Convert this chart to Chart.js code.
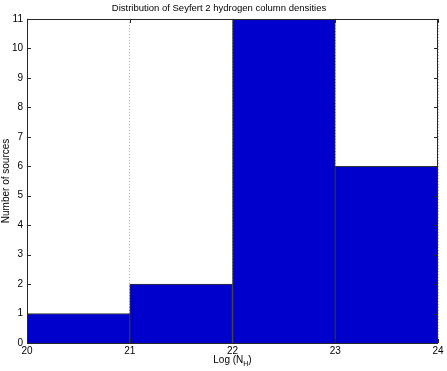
<!DOCTYPE html>
<html>
<head>
<meta charset="utf-8">
<script src="https://cdn.jsdelivr.net/npm/chart.js@4"></script>
<style>
  html, body { margin: 0; padding: 0; background: #fff; }
  #wrap { width: 447px; height: 371px; }
</style>
</head>
<body>
<div id="wrap"><canvas id="histChart" width="447" height="371"></canvas></div>
<script>
"use strict";
// histogram bins (Log N_H) and counts
const binCentres = [20.5, 21.5, 22.5, 23.5];
const counts = [1, 2, 11, 6];
const xTicks = [20, 21, 22, 23, 24];
const yTicks = [0, 1, 2, 3, 4, 5, 6, 7, 8, 9, 10, 11];

const FONT = 'Liberation Sans, Arial, Helvetica, sans-serif';

// box + inward tick marks, matlab style
const boxPlugin = {
    id: 'box',
    afterDatasetsDraw(chart) {
        const { ctx, chartArea: a, scales } = chart;
        ctx.save();
        ctx.strokeStyle = '#262626';
        ctx.lineWidth = 1;
        ctx.beginPath();
        yTicks.forEach(v => {
            const y = Math.round(scales.y.getPixelForValue(v)) + 0.5;
            ctx.moveTo(a.left, y); ctx.lineTo(a.left + 4, y);
            ctx.moveTo(a.right, y); ctx.lineTo(a.right - 4, y);
        });
        xTicks.forEach(v => {
            const x = Math.round(scales.x.getPixelForValue(v)) + 0.5;
            ctx.moveTo(x, a.bottom); ctx.lineTo(x, a.bottom - 4);
            ctx.moveTo(x, a.top); ctx.lineTo(x, a.top + 4);
        });
        ctx.stroke();
        ctx.strokeRect(Math.round(a.left) + 0.5, Math.round(a.top) + 0.5,
            Math.round(a.right - a.left) - 1, Math.round(a.bottom - a.top));
        ctx.restore();
    }
};

// x axis title with subscript H
const xTitlePlugin = {
    id: 'xTitle',
    afterDraw(chart) {
        const { ctx, chartArea: a } = chart;
        const cx = (a.left + a.right) / 2;
        const y = 363;
        ctx.save();
        ctx.fillStyle = '#000';
        ctx.textBaseline = 'alphabetic';
        const p1 = 'Log (N', p3 = ')';
        ctx.font = '7px ' + FONT;
        const w2 = ctx.measureText('H').width;
        ctx.font = '10px ' + FONT;
        const w1 = ctx.measureText(p1).width, w3 = ctx.measureText(p3).width;
        let x = cx - (w1 + w2 + w3) / 2;
        ctx.fillText(p1, x, y);
        x += w1;
        ctx.font = '7px ' + FONT;
        ctx.fillText('H', x, y + 3);
        x += w2;
        ctx.font = '10px ' + FONT;
        ctx.fillText(p3, x, y);
        ctx.restore();
    }
};

document.addEventListener('DOMContentLoaded', () => {
    const ctx = document.getElementById('histChart').getContext('2d');
    new Chart(ctx, {
        type: 'bar',
        data: {
            datasets: [{
                data: binCentres.map((c, i) => ({ x: c, y: counts[i] })),
                backgroundColor: '#0000cd',
                borderColor: '#333333',
                borderWidth: 1,
                barPercentage: 1,
                categoryPercentage: 1,
            }],
        },
        options: {
            responsive: false,
            animation: false,
            layout: { padding: { left: 0, right: 9, top: 0, bottom: 0 } },
            plugins: {
                legend: { display: false },
                tooltip: { enabled: false },
                title: {
                    display: true,
                    text: 'Distribution of Seyfert 2 hydrogen column densities',
                    color: '#000',
                    font: { family: FONT, size: 9.5, weight: 'normal' },
                    padding: { top: 3, bottom: 4.5 },
                },
            },
            scales: {
                x: {
                    type: 'linear',
                    min: 20, max: 24,
                    offset: false,
                    afterBuildTicks: s => { s.ticks = xTicks.map(v => ({ value: v })); },
                    afterFit: s => { s.height = 28; },
                    ticks: { color: '#000', padding: 2, font: { family: FONT, size: 10 }, maxRotation: 0 },
                    grid: { color: '#b0b0b0', drawTicks: false, lineWidth: 1, offset: false },
                    border: { display: false, dash: [1, 2] },
                },
                y: {
                    min: 0, max: 11,
                    afterBuildTicks: s => { s.ticks = yTicks.map(v => ({ value: v })); },
                    afterFit: s => { s.width = 27; },
                    ticks: { color: '#000', padding: 4, font: { family: FONT, size: 10 } },
                    grid: { display: false, drawTicks: false },
                    border: { display: false },
                    title: {
                        display: true,
                        text: 'Number of sources',
                        color: '#000',
                        font: { family: FONT, size: 10 },
                        padding: 0,
                    },
                },
            },
        },
        plugins: [boxPlugin, xTitlePlugin],
    });
});
</script>
</body>
</html>
